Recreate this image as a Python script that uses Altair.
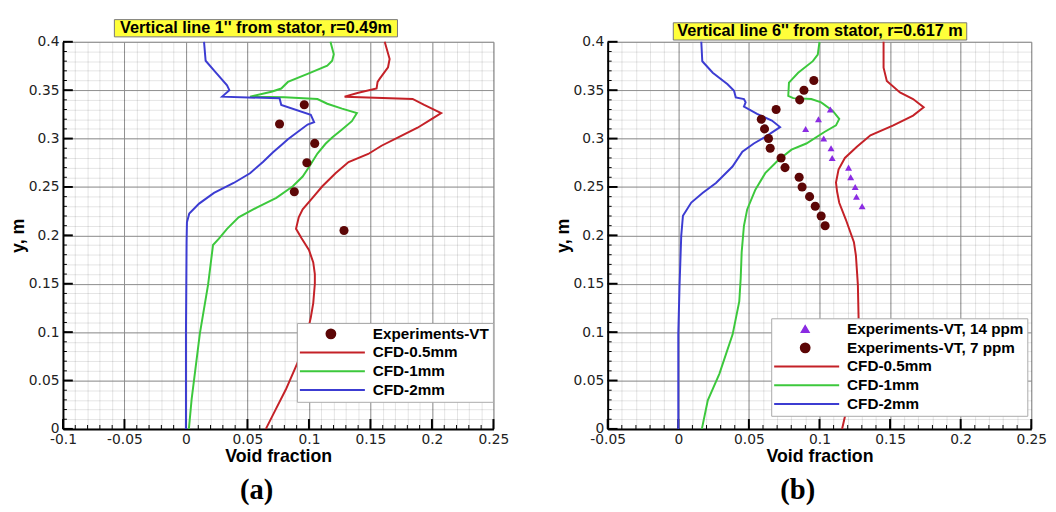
import json
import altair as alt
import pandas as pd

FONT = "Liberation Sans"
TICK_FONT = "DejaVu Sans"
SERIF = "Liberation Serif"

# ---------------- shared ----------------
Y_TICKS = [0, 0.05, 0.1, 0.15, 0.2, 0.25, 0.3, 0.35, 0.4]
Y_MINOR = [round(i * 0.01, 2) for i in range(41)]

COLORS = {
    "CFD-0.5mm": "#c42127",
    "CFD-1mm": "#3cc83c",
    "CFD-2mm": "#3c3cd2",
    "Experiments-VT": "#5c0606",
    "Experiments-VT, 14 ppm": "#8a2be2",
    "Experiments-VT, 7 ppm": "#5c0606",
}

# ---------------- panel (a) ----------------
A_TITLE = "Vertical line 1'' from stator, r=0.49m"
A_CAPTION = "(a)"
A_SERIES = ["Experiments-VT", "CFD-0.5mm", "CFD-1mm", "CFD-2mm"]
A_X_TICKS = [-0.1, -0.05, 0, 0.05, 0.1, 0.15, 0.2, 0.25]

A_RED_X = [0.1616, 0.1656, 0.1643, 0.1576, 0.1558, 0.155, 0.1402, 0.129, 0.1843, 0.1937,
           0.2075, 0.199, 0.1883, 0.175, 0.159, 0.1482, 0.1322, 0.1216, 0.1109, 0.1029,
           0.0949, 0.0917, 0.0895, 0.094, 0.1, 0.1035, 0.1048, 0.1048, 0.1035, 0.1015,
           0.0985, 0.0906, 0.0812, 0.0731, 0.065]
A_RED_Y = [0.4, 0.3822, 0.3737, 0.3619, 0.3585, 0.3517, 0.3474, 0.3433, 0.3409, 0.3348,
           0.3264, 0.3196, 0.3112, 0.3027, 0.2926, 0.2841, 0.2757, 0.2642, 0.2507, 0.2388,
           0.2269, 0.2186, 0.2067, 0.197, 0.185, 0.172, 0.16, 0.15, 0.13, 0.115,
           0.0985, 0.0679, 0.0407, 0.0204, 0.0]

A_GREEN_X = [0.1175, 0.1202, 0.1189, 0.1149, 0.0989, 0.0829, 0.0775, 0.0695, 0.0521, 0.0801,
             0.1069, 0.1149, 0.1269, 0.139, 0.1349, 0.1269, 0.1189, 0.1135, 0.1069, 0.1002,
             0.0949, 0.0869, 0.0735, 0.0575, 0.0428, 0.0334, 0.0268, 0.022, 0.018, 0.0113,
             0.0046, 0.0024]
A_GREEN_Y = [0.4, 0.3872, 0.3804, 0.3754, 0.3669, 0.3585, 0.3517, 0.3484, 0.3433, 0.3426,
             0.3409, 0.336, 0.331, 0.3264, 0.318, 0.3094, 0.301, 0.2946, 0.2845, 0.2709,
             0.2608, 0.2507, 0.2388, 0.2287, 0.2186, 0.2067, 0.1966, 0.19, 0.149, 0.0985,
             0.0306, 0.0]

A_BLUE_X = [0.0147, 0.016, 0.024, 0.0334, 0.0353, 0.0308, 0.0294, 0.0761, 0.0775, 0.1015,
            0.1042, 0.0989, 0.0829, 0.0788, 0.0708, 0.0628, 0.0521, 0.0388, 0.0228, 0.0107,
            0.0027, 0.0008, 0.0005, 0.0, 0.0]
A_BLUE_Y = [0.4, 0.3804, 0.3687, 0.3551, 0.35, 0.3449, 0.3433, 0.3416, 0.3348, 0.3246,
            0.3169, 0.3145, 0.2993, 0.2946, 0.2858, 0.2761, 0.2642, 0.2541, 0.2439, 0.2328,
            0.2226, 0.2135, 0.1932, 0.1, 0.0]

A_EXP_X = [0.0962, 0.0761, 0.1047, 0.0983, 0.0881, 0.1285]
A_EXP_Y = [0.335, 0.315, 0.295, 0.275, 0.245, 0.205]

# ---------------- panel (b) ----------------
B_TITLE = "Vertical line 6'' from stator, r=0.617 m"
B_CAPTION = "(b)"
B_SERIES = ["Experiments-VT, 14 ppm", "Experiments-VT, 7 ppm", "CFD-0.5mm", "CFD-1mm", "CFD-2mm"]
B_X_TICKS = [-0.05, 0, 0.05, 0.1, 0.15, 0.2, 0.25]

B_RED_X = [0.1454, 0.1454, 0.1477, 0.157, 0.1663, 0.1738, 0.1663, 0.1523, 0.1361, 0.1265,
           0.118, 0.1135, 0.1117, 0.1125, 0.114, 0.1186, 0.1244, 0.1258, 0.1272, 0.1277,
           0.1277, 0.1254, 0.1207, 0.116]
B_RED_Y = [0.4, 0.3732, 0.3595, 0.3477, 0.3408, 0.3323, 0.3238, 0.3136, 0.3034, 0.2915,
           0.28, 0.268, 0.2545, 0.245, 0.2337, 0.2166, 0.1929, 0.1794, 0.1488, 0.1147,
           0.0977, 0.0637, 0.0296, 0.0]

B_GREEN_X = [0.1, 0.0988, 0.0953, 0.0849, 0.0784, 0.0779, 0.0814, 0.0942, 0.1012, 0.1093,
             0.114, 0.1117, 0.1035, 0.0907, 0.0802, 0.0709, 0.0616, 0.0546, 0.0488, 0.0465,
             0.0449, 0.0442, 0.0432, 0.0385, 0.0291, 0.0209, 0.0167]
B_GREEN_Y = [0.4, 0.3867, 0.38, 0.368, 0.3579, 0.3442, 0.3418, 0.3408, 0.3374, 0.3289,
             0.3204, 0.3136, 0.3068, 0.2949, 0.2885, 0.2779, 0.2643, 0.2472, 0.2268, 0.2099,
             0.1827, 0.1554, 0.1317, 0.0977, 0.0569, 0.0296, 0.0]

B_BLUE_X = [0.0163, 0.017, 0.0244, 0.0349, 0.0395, 0.0407, 0.0465, 0.0477, 0.0465, 0.0558,
            0.0663, 0.0721, 0.0616, 0.0535, 0.0454, 0.0384, 0.0267, 0.0174, 0.0092, 0.0033,
            0.0021, 0.0009, 0.0, 0.0]
B_BLUE_Y = [0.4, 0.3799, 0.3681, 0.3561, 0.3493, 0.3426, 0.3408, 0.3374, 0.333, 0.3255,
            0.3187, 0.3119, 0.3017, 0.2949, 0.2864, 0.2711, 0.2541, 0.244, 0.2339, 0.2203,
            0.1998, 0.1488, 0.0977, 0.0]

B_EXP7_X = [0.096, 0.089, 0.086, 0.0693, 0.0588, 0.0611, 0.0639, 0.0651, 0.0728, 0.0756,
            0.0856, 0.0877, 0.093, 0.097, 0.1012, 0.104]
B_EXP7_Y = [0.36, 0.35, 0.34, 0.33, 0.32, 0.31, 0.30, 0.29, 0.28, 0.27,
            0.26, 0.25, 0.24, 0.23, 0.22, 0.21]

B_EXP14_X = [0.1077, 0.0993, 0.0902, 0.103, 0.1082, 0.109, 0.1206, 0.1221, 0.1253, 0.1262, 0.1302]
B_EXP14_Y = [0.33, 0.32, 0.31, 0.30, 0.29, 0.28, 0.27, 0.26, 0.25, 0.24, 0.23]

# ---------------- helpers ----------------
HEIGHT = 393
CIRCLE_PATH = "M0.13,0A0.13,0.13 0 1,1 -0.13,0A0.13,0.13 0 1,1 0.13,0Z"
TRIANGLE_PATH = "M-0.1,0.085L0,-0.085L0.1,0.085Z"


def lines_frame(items):
    rows = []
    for name, xs, ys in items:
        for i, (x, y) in enumerate(zip(xs, ys)):
            rows.append({"series": name, "x": x, "y": y, "i": i})
    return pd.DataFrame(rows)


def pick(pairs, default):
    e = json.dumps(default)
    for k, v in reversed(pairs):
        e = "(datum.value == %s ? %s : %s)" % (json.dumps(k), json.dumps(v), e)
    return e


def panel(title, caption, line_items, point_items, order, x_ticks, width,
          box, title_xy, caption_xy, legend_xy):
    x_minor = [round(x_ticks[0] + 0.01 * i, 2)
               for i in range(int(round((x_ticks[-1] - x_ticks[0]) / 0.01)) + 1)]
    xs = alt.Scale(domain=[x_ticks[0], x_ticks[-1]], nice=False, zero=False, padding=0)
    ys = alt.Scale(domain=[0, 0.4], nice=False, zero=False, padding=0)
    ldf = lines_frame(line_items)

    kinds = {}
    for name, _, _, shape, _ in point_items:
        kinds[name] = CIRCLE_PATH if shape == "circle" else TRIANGLE_PATH
    shape_pairs = [(s, kinds.get(s, "stroke")) for s in order]
    fill_pairs = [(s, COLORS[s] if s in kinds else "transparent") for s in order]
    stroke_pairs = [(s, "transparent" if s in kinds else COLORS[s]) for s in order]

    legend = alt.Legend(
        title=None, orient="none", legendX=legend_xy[0], legendY=legend_xy[1],
        symbolType={"expr": pick(shape_pairs, "stroke")},
        symbolFillColor={"expr": pick(fill_pairs, "transparent")},
        symbolStrokeColor={"expr": pick(stroke_pairs, "transparent")},
        symbolSize=4761, symbolStrokeWidth=2,
        clipHeight=16, rowPadding=2, padding=3, symbolOffset=-4, labelOffset=7,
        labelFont=FONT, labelFontSize=15.5, labelFontWeight="bold", labelColor="black",
        labelLimit=400, fillColor="white", strokeColor="#aaaaaa",
    )
    color = alt.Color("series:N", scale=alt.Scale(domain=order, range=[COLORS[s] for s in order]),
                      legend=legend)

    def grid_layer(xv, yv, gcolor):
        return alt.Chart(ldf).mark_point(opacity=0).encode(
            x=alt.X("x:Q", scale=xs, axis=alt.Axis(
                values=xv, orient="top", offset=-HEIGHT, labels=False, domain=False, title=None,
                ticks=False, grid=True, gridColor=gcolor, gridWidth=1)),
            y=alt.Y("y:Q", scale=ys, axis=alt.Axis(
                values=yv, orient="right", offset=-width, labels=False, domain=False, title=None,
                ticks=False, grid=True, gridColor=gcolor, gridWidth=1)),
        )

    minor_grid = grid_layer(x_minor, Y_MINOR, "rgba(0,0,0,0.11)")
    major_grid = grid_layer(x_ticks, Y_TICKS, "#8f8f8f")

    def y_ticks(values, size, thick):
        return alt.Chart(pd.DataFrame({"v": values})).mark_tick(
            orient="horizontal", size=size, thickness=thick, xOffset=size / 2, color="black", opacity=1
        ).encode(
            x=alt.XDatum(x_ticks[0], type="quantitative", scale=xs, axis=None),
            y=alt.Y("v:Q", scale=ys, axis=None),
        )

    def x_ticks_marks(values, size, thick):
        return alt.Chart(pd.DataFrame({"v": values})).mark_tick(
            orient="vertical", size=size, thickness=thick, yOffset=-size / 2, color="black", opacity=1
        ).encode(
            x=alt.X("v:Q", scale=xs, axis=None),
            y=alt.YDatum(0, type="quantitative", scale=ys, axis=None),
        )

    tick_layers = [y_ticks(Y_MINOR, 4, 1), y_ticks(Y_TICKS, 10, 2),
                   x_ticks_marks(x_minor, 4, 1), x_ticks_marks(x_ticks, 10, 2)]

    label_common = dict(ticks=False, tickSize=0, grid=False, domain=True, domainColor="black",
                        domainWidth=2, labelExpr="'' + datum.value", labelFont=TICK_FONT,
                        labelFontSize=14, labelColor="#222222", labelFlush=False,
                        labelOverlap=False, labelPadding=4, titleFont=FONT, titleFontSize=18,
                        titleFontWeight="bold", titleColor="black")
    labels = alt.Chart(ldf).mark_point(opacity=0).encode(
        x=alt.X("x:Q", scale=xs, axis=alt.Axis(values=x_ticks, orient="bottom",
                                                title="Void fraction", titlePadding=1,
                                                **label_common)),
        y=alt.Y("y:Q", scale=ys, axis=alt.Axis(values=Y_TICKS, orient="left",
                                                title="y, m", titlePadding=0.5, **label_common)),
    )

    lines = alt.Chart(ldf).mark_line(strokeWidth=2).encode(
        x=alt.X("x:Q", scale=xs, axis=None),
        y=alt.Y("y:Q", scale=ys, axis=None),
        color=color,
        order=alt.Order("i:Q"),
    )

    pts = []
    for name, px, py, shape, size in point_items:
        pdf = pd.DataFrame({"series": name, "x": px, "y": py})
        pts.append(alt.Chart(pdf).mark_point(filled=True, shape=shape, size=size, opacity=1).encode(
            x=alt.X("x:Q", scale=xs, axis=None),
            y=alt.Y("y:Q", scale=ys, axis=None),
            color=color,
        ))

    tdf = pd.DataFrame({"t": [title], "c": [caption]})
    rect = alt.Chart(tdf).mark_rect(fill="#ffff3a", stroke="#777777", strokeWidth=1).encode(
        x=alt.value(box[0]), x2=alt.value(box[1]), y=alt.value(box[2]), y2=alt.value(box[3]))
    ttext = alt.Chart(tdf).mark_text(font=FONT, fontSize=16.5, fontWeight="bold", color="black").encode(
        x=alt.value(title_xy[0]), y=alt.value(title_xy[1]), text="t:N")
    ctext = alt.Chart(tdf).mark_text(font=SERIF, fontSize=29, fontWeight="bold", color="black").encode(
        x=alt.value(caption_xy[0]), y=alt.value(caption_xy[1]), text="c:N")

    return alt.layer(minor_grid, major_grid, labels, *tick_layers, lines, *pts,
                     rect, ttext, ctext).resolve_axis(
        x="independent", y="independent").properties(width=width, height=HEIGHT)


panel_a = panel(
    A_TITLE, A_CAPTION,
    [("CFD-0.5mm", A_RED_X, A_RED_Y), ("CFD-1mm", A_GREEN_X, A_GREEN_Y), ("CFD-2mm", A_BLUE_X, A_BLUE_Y)],
    [("Experiments-VT", A_EXP_X, A_EXP_Y, "circle", 85)],
    A_SERIES, A_X_TICKS, 437,
    (52.2, 339.6, -22.5, -5.0), (195.9, -13.7), (196.5, 455.0), (237.5, 285.5),
)

panel_b = panel(
    B_TITLE, B_CAPTION,
    [("CFD-0.5mm", B_RED_X, B_RED_Y), ("CFD-1mm", B_GREEN_X, B_GREEN_Y), ("CFD-2mm", B_BLUE_X, B_BLUE_Y)],
    [("Experiments-VT, 14 ppm", B_EXP14_X, B_EXP14_Y, "triangle-up", 50),
     ("Experiments-VT, 7 ppm", B_EXP7_X, B_EXP7_Y, "circle", 85)],
    B_SERIES, B_X_TICKS, 430,
    (66.6, 364.5, -19.3, -1.8), (215.5, -10.5), (193.0, 455.0), (166.0, 280.7),
)

chart = alt.hconcat(panel_a, panel_b, spacing=116, bounds="flush").resolve_scale(
    color="independent", x="independent", y="independent"
).configure_view(stroke="#c8c8c8").properties(
    padding={"left": 0.8, "top": 6.5, "right": 0, "bottom": 0}
)

chart.save("out.html", embed_options={"renderer": "svg", "actions": False})
